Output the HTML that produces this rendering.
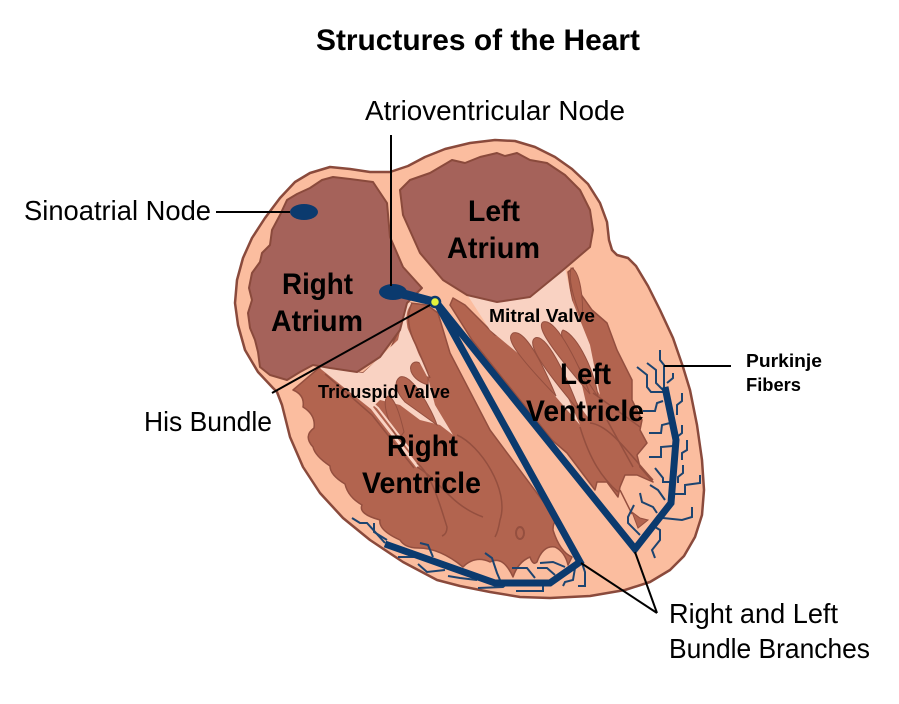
<!DOCTYPE html>
<html><head><meta charset="utf-8"><style>html,body{margin:0;padding:0;background:#fff}svg{display:block}text{font-family:"Liberation Sans",sans-serif;fill:#000}.b{font-weight:bold}</style></head><body>
<svg width="899" height="704" viewBox="0 0 899 704" xmlns="http://www.w3.org/2000/svg">
<!-- outer -->
<polygon points="273,388 258,372 245,350 238,325 235,303 237,280 243,258 252,238 265,218 280,198 295,182 310,173 330,167 350,169 370,172 390,172 408,166 425,157 445,149 470,143 495,140 515,141 535,147 555,157 572,169 588,184 600,203 607,222 609,240 612,250 617,255 628,258 636,266 648,286 660,310 673,338 683,367 690,390 697,425 702,460 704,490 702,515 695,537 684,556 670,570 650,582 625,590 590,596 550,598 520,597 490,592 460,586 437,580 403,562 370,540 343,518 320,493 303,467 290,437 282,405 277,392" fill="#fbbd9f" stroke="#8a4a3c" stroke-width="2.5" stroke-linejoin="round"/>
<!-- right ventricle -->
<path d="M293,390 Q305,395 303,407 Q316,415 314,428 Q303,436 313,447 Q315,456 330,466 Q330,475 345,484 Q348,497 362,505 Q358,514 380,520 Q378,530 400,540 Q405,548 418,548 Q440,548 463,567 Q475,555 490,562 Q503,555 513,577 Q518,562 530,557 Q533,566 537,562 Q543,545 555,547 Q565,552 568,565 L572,557 Q560,552 553,530 Q553,522 557,520 L490,430 L450,353 L438,313 L427,305 L410,303 L403,320 L390,350 L363,373 L320,367 Z" fill="#b2644f" stroke="#944f3f" stroke-width="1.5" stroke-linejoin="round"/>
<polygon points="403,318 398,340 363,373 322,367 350,390 372,408 380,400 400,405 420,420 440,425 453,435 435,405 428,378 415,345" fill="#f9d2c2"/>
<path d="M388,396 C382,400 386,418 398,440 L404,432 C400,415 395,398 388,396 Z" fill="#b2644f" stroke="#944f3f"/>
<path d="M400,377 C393,382 396,392 405,402 L437,425 C432,410 412,373 400,377 Z" fill="#b2644f" stroke="#944f3f"/>
<path d="M413,363 C407,368 412,380 428,385 C430,372 420,358 413,363 Z" fill="#b2644f" stroke="#944f3f"/>
<g fill="none" stroke="#f9d2c2" stroke-linecap="round">
<path d="M322,368 L372,408 L417,466" stroke-width="3"/>
<path d="M345,380 L378,408 L410,450" stroke-width="2"/>
<path d="M410,304 C402,312 404,330 413,347 L428,375" stroke-width="3"/>
</g>
<g fill="none" stroke="#944f3f" stroke-width="1.5">
<path d="M412,303 C406,315 408,330 416,345 L430,378"/>
<path d="M325,374 L372,415 L414,468"/>
<path d="M417,463 C432,475 440,505 447,527 Q447,534 442,536"/>
<path d="M417,467 C440,480 450,505 483,517"/>
<path d="M457,435 C480,445 510,490 500,520 Q498,532 495,537"/>
</g>
<ellipse cx="520" cy="533" rx="4" ry="6" fill="none" stroke="#944f3f" stroke-width="2"/>
<!-- left ventricle -->
<polygon points="450,305 453,298 465,305 495,335 560,335 575,320 568,272 573,268 578,290 592,310 607,323 617,350 632,380 632,400 642,420 640,430 647,443 637,455 640,467 653,482 637,475 625,475 620,487 618,497 607,482 597,482 595,490 567,453 552,440 472,340" fill="#b2644f" stroke="#944f3f" stroke-width="1.5" stroke-linejoin="round"/>
<polygon points="468,296 565,268 572,300 590,345 600,395 575,355 590,420 560,380 580,425 520,355 490,330" fill="#f9d2c2"/>
<g fill="#b2644f" stroke="#944f3f" stroke-width="1">
<path d="M563,330 C558,334 565,347 598,397 C596,375 578,335 563,330 Z"/>
<path d="M543,322 C537,326 545,342 590,394 C582,372 557,317 543,322 Z"/>
<path d="M535,338 C528,342 534,358 580,412 C572,390 548,332 535,338 Z"/>
<path d="M513,333 C506,338 512,350 556,396 C546,372 526,328 513,333 Z"/>
<path d="M571,268 C568,280 574,300 582,320 C584,300 580,270 571,268 Z"/>
</g>
<g fill="none" stroke="#944f3f" stroke-width="1.5">
<path d="M580,427 C590,460 602,478 618,492"/>
<path d="M590,423 C610,425 630,455 653,480"/>
<path d="M593,393 L640,427"/>
<path d="M607,420 L633,467"/>
<path d="M620,490 L632,514"/>
</g>
<path d="M632,512 L638,528 L648,520 L640,518 Z" fill="#b2644f" stroke="#944f3f"/>
<!-- atria -->
<polygon points="287,200 297,194 310,188 322,180 333,177 350,179 373,182 387,203 390,237 403,267 422,288 407,303 400,330 380,357 357,372 330,368 313,365 300,372 287,380 270,375 260,367 258,352 255,340 250,328 248,313 252,300 249,288 252,273 260,262 262,253 270,245 272,230 280,215" fill="#a5625a" stroke="#8a4a3c" stroke-width="2" stroke-linejoin="round"/>
<polygon points="400,190 410,180 430,173 447,163 452,160 465,163 480,157 497,153 505,156 517,153 530,160 547,163 565,175 580,190 590,210 593,230 590,247 563,270 530,297 497,302 467,295 443,280 420,253 403,215" fill="#a5625a" stroke="#8a4a3c" stroke-width="2" stroke-linejoin="round"/>
<!-- fibers -->
<g fill="none" stroke="#1c4470" stroke-width="2">
<path d="M660,350 L660,360 L664,365 L664,388"/>
<path d="M647,363 L656,370 L656,383 L663,390"/>
<path d="M637,367 L647,375 L647,387 L651,392 L663,392"/>
<path d="M667,383 L673,378 L673,373"/>
<path d="M643,411 L655,411 L657,403 L663,401"/>
<path d="M682,393 L682,401 L677,405 L677,415"/>
<path d="M649,433 L661,433 L662,425 L670,423"/>
<path d="M682,425 L682,433 L677,437"/>
<path d="M649,457 L661,457 L661,447 L673,446"/>
<path d="M687,440 L687,450 L682,453 L682,460"/>
<path d="M655,468 L663,478 L663,482 L673,482"/>
<path d="M683,465 L683,473 L678,477 L678,483"/>
<path d="M700,475 L700,483 L685,485 L685,494 L673,494"/>
<path d="M650,485 L658,490 L665,500"/>
<path d="M640,493 L642,502 L653,507 L657,513"/>
<path d="M634,505 L628,517 L628,523 L640,535"/>
<path d="M663,518 L682,520 L692,517 L692,507"/>
<path d="M655,527 L660,530 L660,540 L652,550 L655,558"/>
<path d="M352,518 L360,523 L367,523 L385,543"/>
<path d="M374,523 L374,532 L387,540"/>
<path d="M420,543 L428,545 L433,557"/>
<path d="M398,557 L417,557"/>
<path d="M418,564 L427,572 L445,570"/>
<path d="M448,576 L460,578 L477,580"/>
<path d="M478,588 L503,587 L508,583"/>
<path d="M485,553 L492,558 L497,573 L500,580"/>
<path d="M512,568 L527,568 L535,578"/>
<path d="M516,591 L543,591 L543,583"/>
<path d="M540,563 L553,562 L565,567"/>
<path d="M537,568 L547,568 L555,575"/>
<path d="M563,586 L565,582 L573,580 L575,568"/>
<path d="M578,586 L585,586 L585,572 L582,563"/>
</g>
<!-- conduction -->
<path d="M385,544 L495,583 L550,583 L580,562 L436,302 L635,549 L671,503 L676,440 L665,387" fill="none" stroke="#0b3a6e" stroke-width="7" stroke-linejoin="miter"/>
<path d="M395,287 L436,298 L434,306 L395,297 Z" fill="#0b3a6e"/>
<ellipse cx="304" cy="212" rx="14" ry="8" fill="#0b3a6e"/>
<ellipse cx="393" cy="292" rx="14" ry="8" fill="#0b3a6e"/>
<circle cx="435" cy="302" r="5" fill="#e4f33c" stroke="#0b3a6e" stroke-width="2.5"/>
<!-- leaders -->
<g stroke="#000" stroke-width="2" fill="none">
<path d="M391,135 L391,286"/>
<path d="M216,212 L290,212"/>
<path d="M272,393 L430,305"/>
<path d="M664,366 L731,366"/>
<path d="M581,563 L657,613"/>
<path d="M635,552 L657,613"/>
</g>
<!-- text -->
<text x="316" y="50" class="b" font-size="30" textLength="324" lengthAdjust="spacingAndGlyphs">Structures of the Heart</text>
<text x="365" y="120" font-size="28" textLength="260" lengthAdjust="spacingAndGlyphs">Atrioventricular Node</text>
<text x="24" y="220" font-size="28" textLength="187" lengthAdjust="spacingAndGlyphs">Sinoatrial Node</text>
<text x="144" y="431" font-size="28" textLength="128" lengthAdjust="spacingAndGlyphs">His Bundle</text>
<text x="669" y="623" font-size="28" textLength="169" lengthAdjust="spacingAndGlyphs">Right and Left</text>
<text x="669" y="658" font-size="28" textLength="201" lengthAdjust="spacingAndGlyphs">Bundle Branches</text>
<text x="746" y="367" class="b" font-size="18" textLength="76" lengthAdjust="spacingAndGlyphs">Purkinje</text>
<text x="746" y="391" class="b" font-size="18" textLength="55" lengthAdjust="spacingAndGlyphs">Fibers</text>
<text x="282" y="294" class="b" font-size="30" textLength="71" lengthAdjust="spacingAndGlyphs">Right</text>
<text x="271" y="331" class="b" font-size="30" textLength="92" lengthAdjust="spacingAndGlyphs">Atrium</text>
<text x="468" y="221" class="b" font-size="30" textLength="52" lengthAdjust="spacingAndGlyphs">Left</text>
<text x="447" y="258" class="b" font-size="30" textLength="93" lengthAdjust="spacingAndGlyphs">Atrium</text>
<text x="489" y="322" class="b" font-size="18" textLength="106" lengthAdjust="spacingAndGlyphs">Mitral Valve</text>
<text x="318" y="398" class="b" font-size="18" textLength="132" lengthAdjust="spacingAndGlyphs">Tricuspid Valve</text>
<text x="560" y="384" class="b" font-size="30" textLength="51" lengthAdjust="spacingAndGlyphs">Left</text>
<text x="526" y="421" class="b" font-size="30" textLength="118" lengthAdjust="spacingAndGlyphs">Ventricle</text>
<text x="387" y="456" class="b" font-size="30" textLength="71" lengthAdjust="spacingAndGlyphs">Right</text>
<text x="362" y="493" class="b" font-size="30" textLength="119" lengthAdjust="spacingAndGlyphs">Ventricle</text>
</svg>
</body></html>
